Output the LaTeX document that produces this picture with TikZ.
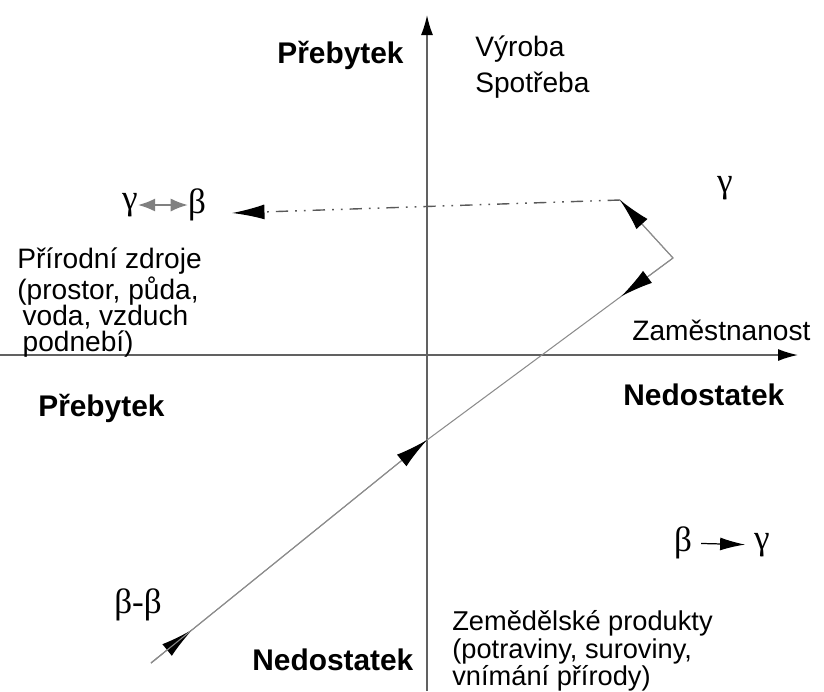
\documentclass[tikz,border=0pt]{standalone}
\usepackage{fontspec}
\setmainfont{Liberation Sans}
\newfontfamily\grkfont{Liberation Serif}
\usetikzlibrary{arrows.meta,calc}

\begin{document}
\begin{tikzpicture}[x=0.02cm,y=-0.02cm,>=Latex,
  axis/.style={draw=black!62,line width=0.9pt},
  route/.style={draw=black!45,line width=0.6pt},
  bigtip/.style={-{Latex[length=6.5mm,width=3mm,color=black]}},
  lbl/.style={inner sep=0pt,font=\fontsize{16}{15}\selectfont},
  hdr/.style={inner sep=0pt,font=\fontsize{17}{20}\selectfont\bfseries},
  grk/.style={inner sep=0pt,font=\fontsize{20}{24}\selectfont\grkfont}]
  \useasboundingbox (0,0) rectangle (824,691);
  % osy
  \coordinate (ybot) at (427,691); \coordinate (ytop) at (427,15);
  \coordinate (xleft) at (0,355); \coordinate (xright) at (798,355);
  \draw[axis,-{Latex[length=4mm,width=2.4mm,color=black]}] (ybot) -- (ytop);
  \draw[axis,-{Latex[length=4mm,width=2.4mm,color=black]}] (xleft) -- (xright);
  % trajektorie
  \coordinate (r0) at (151,663);
  \coordinate (r1) at (427,440);
  \coordinate (r3) at (673,258);
  \coordinate (r4) at (620,200);
  \coordinate (r5) at (232,213);
  \draw[route] (r0) -- (r1) -- (r3) -- (r4);
  \draw[route,bigtip] (r0) -- ($(r0)!0.15!(r1)$);
  \draw[route,bigtip] (r0) -- (r1);
  \draw[route,bigtip] (r3) -- ($(r3)!0.21!(r1)$);
  \draw[route,bigtip] (r3) -- (r4);
  \draw[draw=black!65,line width=0.8pt,bigtip,
    dash pattern=on 7pt off 4pt on 1pt off 4pt on 1pt off 4pt] (r4) -- (r5);
  % popisky
  \node[hdr,anchor=west] (surplustop) at (277,55) {Přebytek};
  \node[lbl,anchor=west,align=left,font=\fontsize{16}{20}\selectfont] (output) at (475,67) {Výroba\\Spotřeba};
  \node[grk] (gammatop) at (725,188) {γ};
  \node[grk] (gleft) at (130,205) {γ};
  \node[grk] (bleft) at (197,205) {β};
  \draw[draw=black!50,line width=0.8pt,
    {Latex[length=3.4mm,width=2.6mm]}-{Latex[length=3.4mm,width=2.6mm]},
    color=black!50] (gleft.east) -- (bleft.west);
  \node[lbl,anchor=west,align=left] (nature) at (17,303)
    {Přírodní zdroje\\(prostor, půda,\\\hspace{3pt}voda, vzduch\\\hspace{3pt}podnebí)};
  \node[lbl,anchor=west] (jobs) at (632,330) {Zaměstnanost};
  \node[hdr,anchor=west] (surplusleft) at (38,408) {Přebytek};
  \node[hdr,anchor=west] (shortright) at (623,395) {Nedostatek};
  \node[grk] (bright) at (683,543) {β};
  \node[grk] (gright) at (762,545) {γ};
  \draw[line width=0.7pt,-{Latex[length=5mm,width=2.6mm]},shorten <=5pt,shorten >=5pt]
    (bright) -- (gright);
  \node[grk] (bb) at (138,605) {β-β};
  \node[hdr,anchor=west] (shortbottom) at (252,660) {Nedostatek};
  \node[lbl,anchor=west,align=left,font=\fontsize{15.5}{14}\selectfont] (farm) at (452,651)
    {Zemědělské produkty\\(potraviny, suroviny,\\vnímání přírody)};
\end{tikzpicture}
\end{document}
